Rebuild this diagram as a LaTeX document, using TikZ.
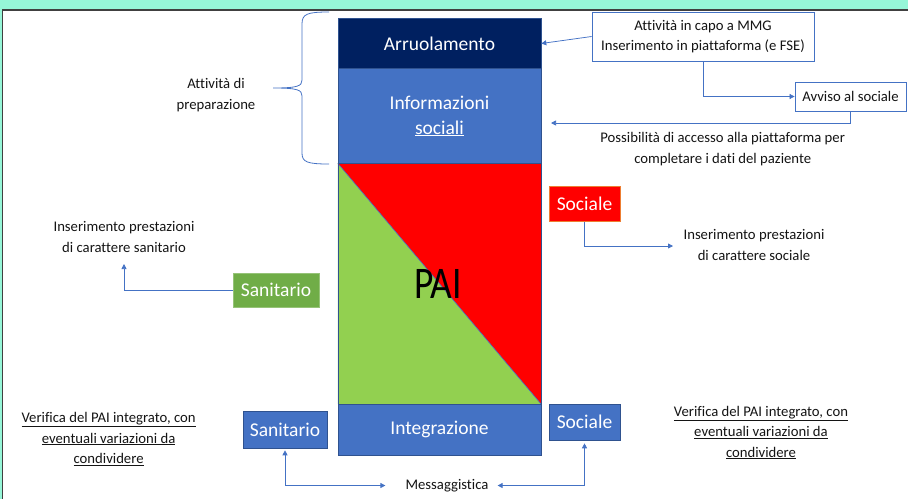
\documentclass[tikz,border=0pt]{standalone}
\usepackage{fontspec}
\setmainfont{Carlito}[Ligatures=NoCommon]
\usetikzlibrary{arrows.meta}
\definecolor{mint}{RGB}{150,246,216}
\definecolor{framegray}{RGB}{64,64,64}
\definecolor{navy}{RGB}{0,32,96}
\definecolor{pblue}{RGB}{68,114,196}
\definecolor{pbluedark}{RGB}{47,82,143}
\definecolor{pgreen}{RGB}{146,208,80}
\definecolor{sgreen}{RGB}{112,173,71}
\definecolor{sgreenline}{RGB}{150,195,120}
\definecolor{sorange}{RGB}{237,125,49}
\definecolor{inktext}{RGB}{20,20,20}

\begin{document}
\begin{tikzpicture}[x=1pt,y=-1pt,
  conn/.style={draw=pblue, line width=0.75pt},
  arrow1/.style={conn, -{Triangle[length=5pt,width=5pt]}},
  arrow2/.style={conn, {Triangle[length=5pt,width=5pt]}-{Triangle[length=5pt,width=5pt]}},
  txtnote/.style={font=\fontsize{14.7}{20.5}\selectfont, text=inktext, align=center, inner sep=0pt},
  colbox/.style={rectangle, draw=pbluedark, line width=0.6pt, minimum width=203pt, inner sep=0pt, text=white, font=\fontsize{19.5}{25}\selectfont, align=center},
  labelbox/.style={rectangle, line width=0.6pt, inner sep=0pt, text=white, font=\fontsize{19.5}{24}\selectfont},
  infobox/.style={rectangle, draw=pblue, fill=white, line width=0.8pt, inner sep=0pt, font=\fontsize{14.7}{20}\selectfont, text=inktext, align=center}
]
\useasboundingbox (0,0) rectangle (908,499);

% page frame
\fill[mint] (0,0) rectangle (908,9.5);
\fill[mint] (0,9.5) rectangle (1.5,499);
\draw[framegray, line width=1.5pt] (2.3,499) -- (2.3,10.2) -- (908,10.2);

% central column
\node[colbox, fill=navy, minimum height=50pt] (arruol) at (439.5,43.5) {Arruolamento};
\node[colbox, fill=pblue, minimum height=95pt] (info) at (439.5,116) {Informazioni\\\underline{sociali}};
\node[minimum width=203pt, minimum height=240.5pt, inner sep=0pt] (pai) at (439.5,283.75) {};
\fill[pgreen] (pai.north west) -- (pai.south east) -- (pai.south west) -- cycle;
\fill[red] (pai.north west) -- (pai.north east) -- (pai.south east) -- cycle;
\draw[pblue, line width=0.6pt] (pai.north west) -- (pai.south east);
\draw[pbluedark, line width=0.6pt] (pai.north west) rectangle (pai.south east);
\node[inner sep=0pt, text=black, font=\fontsize{39}{39}\selectfont] (paitxt) at (438,283.5) {\scalebox{0.96}[1.16]{PAI}};
\node[colbox, fill=pblue, minimum height=51pt, text depth=4pt] (integ) at (439.5,429.5) {Integrazione};

% brace grouping the preparation steps
\draw[pblue, line width=0.8pt]
  (329,12) .. controls (307,12) and (302,14) .. (302,24) -- (302,80)
  .. controls (302,86) and (298,88) .. (273,88)
  .. controls (298,88) and (302,90) .. (302,96) -- (302,153)
  .. controls (302,162) and (307,164) .. (329,164);
\node[txtnote, anchor=base] (prep) at (216,109) {Attività di\\preparazione};

% enrolment and social notice
\node[infobox, minimum width=222pt, minimum height=49pt] (mmg) at (703,36.5) {Attività in capo a MMG\\Inserimento in piattaforma (e FSE)};
\node[infobox, minimum width=111pt, minimum height=29pt] (avviso) at (850.5,96.5) {Avviso al sociale};
\coordinate (infoin) at (551,123);
\node[txtnote, anchor=base] (accesso) at (722.7,163) {Possibilità di accesso alla piattaforma per\\completare i dati del paziente};
\draw[arrow1] (mmg.west) -- (arruol.east);
\draw[arrow1] (mmg.south) |- (avviso.west);
\draw[arrow1] (avviso.south) |- (infoin);

% health and social contributions to the plan
\node[labelbox, fill=sgreen, draw=sgreenline, minimum width=86pt, minimum height=34pt] (sanpai) at (276,290) {Sanitario};
\coordinate (santarget) at (124,264);
\node[txtnote, anchor=base] (sanins) at (124,252) {Inserimento prestazioni\\di carattere sanitario};
\draw[arrow1] (sanpai.west) -| (santarget);

\node[labelbox, fill=red, draw=sorange, minimum width=71pt, minimum height=35pt] (socpai) at (584.5,204) {Sociale};
\coordinate (soctarget) at (673,246);
\node[txtnote, anchor=base] (socins) at (754,260) {Inserimento prestazioni\\di carattere sociale};
\draw[arrow1] (socpai.south) |- (soctarget);

% integration and messaging
\node[labelbox, fill=pblue, draw=pbluedark, minimum width=84pt, minimum height=37pt] (sanint) at (285,429.5) {Sanitario};
\node[labelbox, fill=pblue, draw=pbluedark, minimum width=71pt, minimum height=36pt] (socint) at (584.5,422) {Sociale};
\node[txtnote] (msg) at (447,485.5) {Messaggistica};
\draw[arrow2, shorten <=2pt, shorten >=20pt] (sanint.south) |- (msg.west);
\draw[arrow2, shorten <=3pt, shorten >=9pt] (socint.south) |- (msg.east);

\node[txtnote, anchor=base] (verl) at (108.6,463.5) {\underline{Verifica del PAI integrato, con}\\\underline{eventuali variazioni da}\\\underline{condividere}};
\node[txtnote, anchor=base] (verr) at (761,457) {\underline{Verifica del PAI integrato, con}\\\underline{eventuali variazioni da}\\\underline{condividere}};
\end{tikzpicture}
\end{document}
